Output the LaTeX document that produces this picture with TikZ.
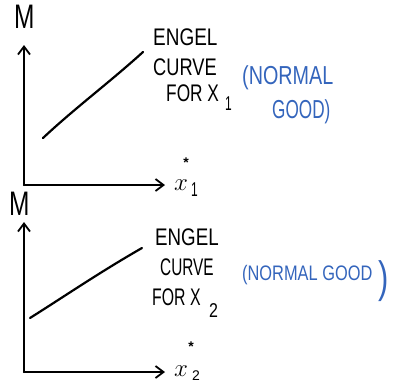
\documentclass[tikz,border=0pt]{standalone}
\usepackage{fontspec}
\setmainfont{Liberation Sans}
\usetikzlibrary{arrows.meta}
\definecolor{penblue}{RGB}{52,101,188}
\newcommand\hwscale[2]{\scalebox{#1}[1]{#2}}
\tikzset{
  pen/.style={line width=2.2pt, line cap=round, line join=round, black},
  axis/.style={pen, -{Straight Barb[length=8pt,width=12pt,line width=1.8pt]}},
  hand/.style={font=\fontsize{24}{26}\selectfont, inner sep=0pt, anchor=base west},
  bluehand/.style={hand, text=penblue},
  lbl/.style={font=\fontsize{34}{36}\selectfont, inner sep=0pt, anchor=base west},
  xlbl/.style={font=\fontsize{32}{34}\selectfont, inner sep=0pt, anchor=base west},
  sub/.style={font=\fontsize{20}{22}\selectfont, inner sep=0pt, anchor=base west},
  star/.style={font=\fontsize{14}{14}\bfseries\selectfont, inner sep=0pt}
}
\begin{document}
\begin{tikzpicture}[x=1pt,y=-1pt]
\useasboundingbox (0,0) rectangle (398,383);
% ---- top graph ----
\coordinate (o1) at (24,185);
\coordinate (y1) at (24,45);
\coordinate (x1) at (165,185);
\draw[axis] (o1) -- (y1);
\draw[axis] (o1) -- (x1);
\coordinate (a1) at (43,138);
\coordinate (b1) at (143,52);
\draw[pen] (a1) .. controls (75,108) and (110,82) .. (b1);
\node[lbl] (m1) at (14,28) {\hwscale{0.72}{M}};
\node[xlbl] (xl1) at (174,190) {$x$};
\node[sub] (s1) at (191,196) {\hwscale{0.6}{1}};
\node[star] (st1) at (186,163) {*};
\node[hand] (e1) at (153,45) {\hwscale{0.79}{ENGEL}};
\node[hand] (c1) at (153,75) {\hwscale{0.76}{CURVE}};
\node[hand] (f1) at (166,101) {\hwscale{0.72}{FOR X}};
\node[sub] (f1s) at (225,110) {\hwscale{0.6}{1}};
\node[bluehand, font=\fontsize{26}{28}\selectfont] (n1) at (242,84) {\hwscale{0.76}{(NORMAL}};
\node[bluehand, font=\fontsize{26}{28}\selectfont] (g1) at (272,118) {\hwscale{0.66}{GOOD)}};
% ---- bottom graph ----
\coordinate (o2) at (24,372);
\coordinate (y2) at (24,222);
\coordinate (x2) at (165,372);
\draw[axis] (o2) -- (y2);
\draw[axis] (o2) -- (x2);
\coordinate (a2) at (30,318);
\coordinate (b2) at (142,248);
\draw[pen] (a2) .. controls (65,296) and (100,272) .. (b2);
\node[lbl] (m2) at (9,215) {\hwscale{0.72}{M}};
\node[xlbl] (xl2) at (174,376) {$x$};
\node[sub, font=\fontsize{14}{14}\selectfont] (s2) at (192,380) {2};
\node[star] (st2) at (191,347) {*};
\node[hand] (e2) at (155,245) {\hwscale{0.78}{ENGEL}};
\node[hand] (c2) at (160,275) {\hwscale{0.64}{CURVE}};
\node[hand] (f2) at (152,305) {\hwscale{0.66}{FOR X}};
\node[sub] (f2s) at (209,317) {\hwscale{0.8}{2}};
\node[bluehand, font=\fontsize{21}{23}\selectfont] (n2) at (242,280) {\hwscale{0.78}{(NORMAL GOOD}};
\node[text=penblue, font=\fontsize{44}{46}\selectfont, inner sep=0pt, anchor=base west] (p2) at (378,292) {\hwscale{0.7}{)}};
\end{tikzpicture}
\end{document}
